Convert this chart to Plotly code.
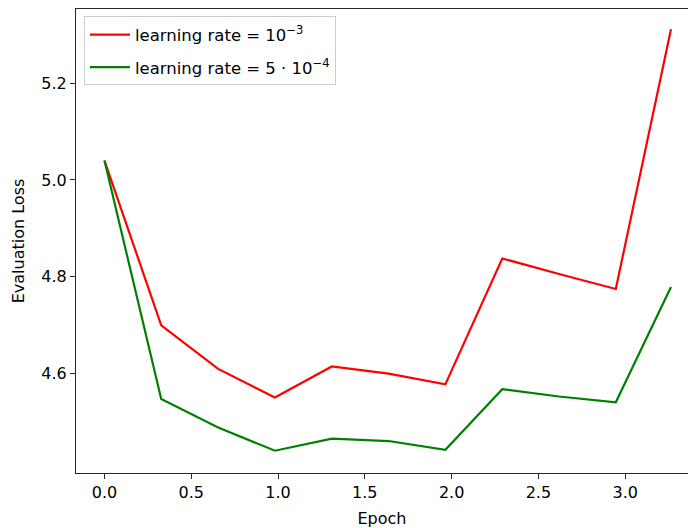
import plotly.graph_objects as go

epochs = [0.0, 0.327, 0.655, 0.982, 1.31, 1.637, 1.964, 2.292, 2.619, 2.946, 3.264]
loss_lr_1e3 = [5.04, 4.70, 4.61, 4.551, 4.615, 4.60, 4.578, 4.838, 4.806, 4.775, 5.311]
loss_lr_5e4 = [5.04, 4.548, 4.489, 4.441, 4.466, 4.461, 4.443, 4.568, 4.553, 4.541, 4.779]
series_names = ["learning rate = 10<sup>−3</sup>", "learning rate = 5 · 10<sup>−4</sup>"]
x_ticks = [0.0, 0.5, 1.0, 1.5, 2.0, 2.5, 3.0]
y_ticks = [4.6, 4.8, 5.0, 5.2]

font = "DejaVu Sans, Verdana, sans-serif"
fig = go.Figure()
fig.add_trace(go.Scatter(x=epochs, y=loss_lr_1e3, mode="lines", name=series_names[0],
                         legendgroup="a", line=dict(color="red", width=2.2)))
fig.add_trace(go.Scatter(x=epochs, y=loss_lr_5e4, mode="lines", name=series_names[1],
                         legendgroup="b", line=dict(color="green", width=2.2)))

fig.update_layout(
    width=688, height=528,
    margin=dict(l=76, r=0, t=9, b=55, autoexpand=False),
    plot_bgcolor="white", paper_bgcolor="white",
    font=dict(family=font, size=15.5, color="black"),
    showlegend=True,
    legend=dict(x=0.013, y=0.984, xanchor="left", yanchor="top",
                tracegroupgap=8, traceorder="grouped", itemwidth=40,
                bgcolor="rgba(255,255,255,0.8)", bordercolor="#cccccc", borderwidth=1,
                font=dict(family=font, size=16.5, color="black")),
    xaxis=dict(range=[-0.164, 3.362], tickvals=x_ticks, ticktext=[f"{v:.1f}" for v in x_ticks],
               automargin=False, tickfont=dict(size=16),
               showgrid=False, zeroline=False, showline=True, linecolor="#262626", linewidth=1.2,
               mirror=True, ticks="outside", ticklen=5, tickcolor="#262626", tickwidth=1.2,
               title=dict(text="Epoch", standoff=12, font=dict(size=16))),
    yaxis=dict(range=[4.395, 5.353], tickvals=y_ticks, ticktext=[f"{v:.1f}" for v in y_ticks],
               automargin=False, tickfont=dict(size=16),
               showgrid=False, zeroline=False, showline=True, linecolor="#262626", linewidth=1.2,
               ticks="outside", ticklen=5, tickcolor="#262626", tickwidth=1.2,
               title=dict(text="Evaluation Loss", standoff=12, font=dict(size=16))),
)
fig.write_html("out.html", config={"displayModeBar": False},
               post_script="document.body.style.margin='0';document.body.style.overflow='hidden';")
